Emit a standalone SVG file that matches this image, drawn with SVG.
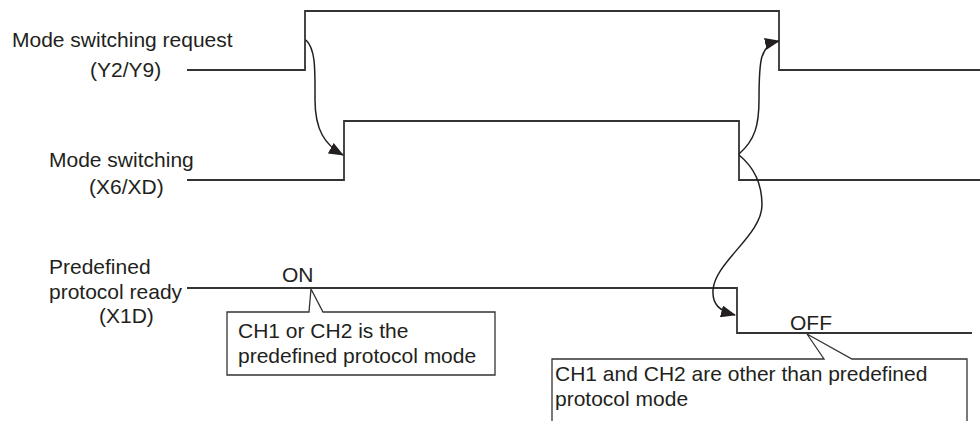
<svg xmlns="http://www.w3.org/2000/svg" width="980" height="421" viewBox="0 0 980 421">
<style>
text{font-family:"Liberation Sans",Arial,sans-serif;font-size:21px;fill:#231f20}
.sig{fill:none;stroke:#333;stroke-width:1.8}
.call{fill:#fff;stroke:#333;stroke-width:1.3}
.arr{fill:none;stroke:#231f20;stroke-width:1.5}
</style>
<defs>
<marker id="ah" markerWidth="15" markerHeight="12" refX="14" refY="6" orient="auto" markerUnits="userSpaceOnUse">
<path d="M0,0 L15,6 L0,12 Z" fill="#231f20"/>
</marker>
</defs>
<rect width="980" height="421" fill="#fff"/>
<g id="sig-request">
<text x="12" y="47">Mode switching request</text>
<text x="90" y="77">(Y2/Y9)</text>
<path class="sig" d="M187,70 H305 V11 H779 V70 H980"/>
</g>
<g id="sig-switching">
<text x="49" y="167">Mode switching</text>
<text x="89" y="194">(X6/XD)</text>
<path class="sig" d="M187,180 H344 V121 H739 V180 H980"/>
</g>
<g id="sig-ready">
<text x="49" y="274">Predefined</text>
<text x="49" y="299">protocol ready</text>
<text x="99" y="323">(X1D)</text>
<path class="sig" d="M187,288 H737 V333 H972"/>
<text x="282" y="282">ON</text>
<text x="790" y="330">OFF</text>
</g>
<g id="callout-on">
<path class="call" d="M495,312 H323 L311,289 L309,312 H227 V375 H495 Z"/>
<text x="238" y="338">CH1 or CH2 is the</text>
<text x="238" y="363">predefined protocol mode</text>
</g>
<g id="callout-off">
<path class="call" d="M967,430 V359 H852 L807,334 L824,359 H552 V430"/>
<text x="555" y="381">CH1 and CH2 are other than predefined</text>
<text x="555" y="406">protocol mode</text>
</g>
<g id="connectors">
<path class="arr" marker-end="url(#ah)" d="M306,40 C316,50 315,70 315,100 C315,130 325,145 343,155"/>
<path class="arr" marker-end="url(#ah)" d="M739,154 C755,140 759,125 759,100 C759,60 760,45 779,41"/>
<path class="arr" marker-end="url(#ah)" d="M739,155 C755,168 762,185 762,205 C762,235 715,262 713,290 C712,305 720,311 735,315"/>
</g>
</svg>
